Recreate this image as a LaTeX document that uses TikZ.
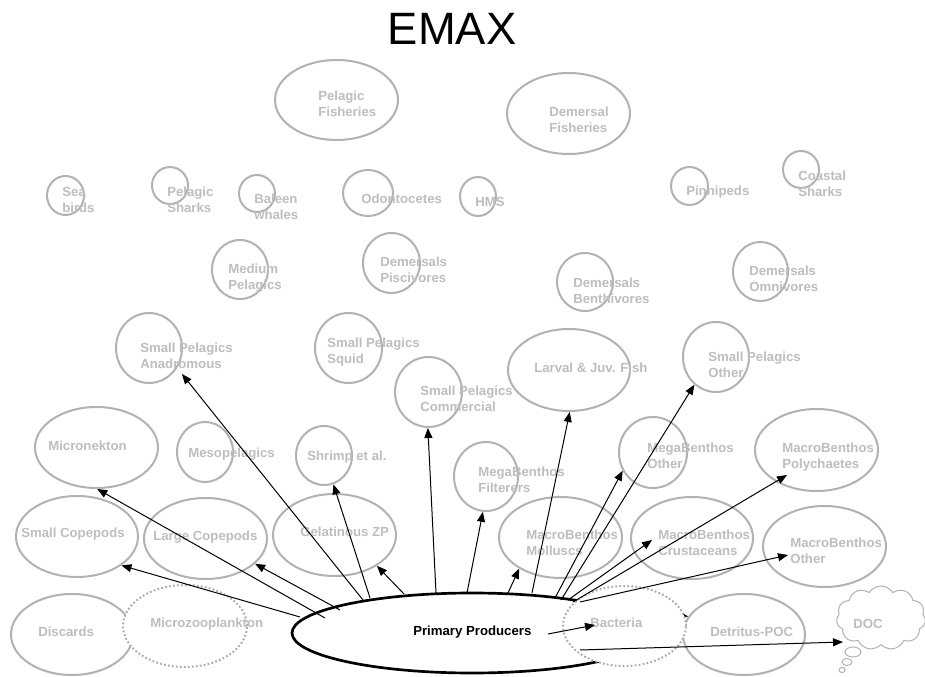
\documentclass[tikz,border=0pt]{standalone}
\usepackage{fontspec}
\setmainfont{Liberation Sans}
\usetikzlibrary{shapes.geometric,shapes.symbols,arrows.meta}
\definecolor{linegray}{RGB}{178,178,178}
\definecolor{txtgray}{RGB}{190,190,190}
\definecolor{dotgray}{RGB}{170,170,170}
\newcommand\mybub[6][bubble]{\node[#1, minimum width={2*#5*0.75pt}, minimum height={2*#6*0.75pt}] (#2) at (#3,#4) {};}
\begin{document}
\begin{tikzpicture}[x=0.75pt,y=-0.75pt,
  bubble/.style={ellipse, draw=linegray, line width=1.5pt, fill=white, inner sep=0pt},
  dotbubble/.style={ellipse, draw=dotgray, line width=1.5pt, dash pattern=on 1.3pt off 1.7pt, fill=white, inner sep=0pt},
  ppbubble/.style={ellipse, draw=black, line width=2pt, fill=white, inner sep=0pt},
  thought/.style={ellipse, draw=linegray, line width=0.75pt, fill=white, inner sep=0pt},
  lab/.style={font=\bfseries\fontsize{9.9}{12}\selectfont, text=txtgray, inner sep=0pt, anchor=base west, align=left},
  arr/.style={-{Triangle[length=7.5pt,width=6pt]}, line width=0.75pt, black}]
\useasboundingbox (0,0) rectangle (925,677);
\fill[white] (0,0) rectangle (925,677);
% title
\node[font=\fontsize{34}{40}\selectfont, inner sep=0pt] (title) at (452,28.5) {EMAX};
% grey bubbles
\mybub{pfish}{336.5}{100}{61.5}{40}
\mybub{dfish}{568.5}{113.5}{61.5}{40.5}
\mybub{seabirds}{65.5}{195.5}{18.5}{19.5}
\mybub{psharks}{170}{185.5}{18}{18.5}
\mybub{baleen}{257}{193.5}{18}{18.5}
\mybub{odonto}{368}{193}{25}{23}
\mybub{hms}{478}{196.5}{18}{19.5}
\mybub{pinni}{689.5}{186}{18.5}{19}
\mybub{csharks}{801}{169.5}{18}{18.5}
\mybub{medpel}{240}{269.5}{28}{29.5}
\mybub{dpisc}{391.5}{263}{28.5}{30}
\mybub{dbenth}{585}{282}{28}{29}
\mybub{domni}{760.5}{271.5}{27.5}{29.5}
\mybub{spanad}{149}{348}{33}{35}
\mybub{spsquid}{348.5}{348}{33.5}{35}
\mybub{spcomm}{428.5}{392}{33.5}{35}
\mybub{larval}{569}{370}{61}{41}
\mybub{spother}{716}{357}{33}{35}
\mybub{micronek}{96.5}{447.5}{61.5}{40.5}
\mybub{mesopel}{205}{452}{28}{30}
\mybub{shrimp}{324}{455.5}{28}{29.5}
\mybub{megafilt}{486}{476.5}{32}{34.5}
\mybub{megaother}{653}{452.5}{34}{35.5}
\mybub{polych}{816.5}{450}{61.5}{41}
\mybub{smallcop}{77}{536.5}{61}{40.5}
\mybub{largecop}{205.5}{538.5}{61.5}{40.5}
\mybub{gelzp}{334.5}{535}{61.5}{41}
\mybub{molluscs}{560.5}{537.5}{61.5}{40.5}
\mybub{crust}{692}{538}{61}{41}
\mybub{mbother}{824.5}{546.5}{61.5}{40.5}
\mybub{discards}{72}{634.5}{61}{40.5}
\mybub{detritus}{744}{634.5}{61}{40.5}
\mybub[dotbubble]{microzoo}{185}{626}{62}{41}
% producers and bacteria
\coordinate (sdet) at (566,604);
\draw[arr] (sdet) -- (detritus.162.6);
\mybub[ppbubble]{pp}{472}{633}{180}{40}
\mybub[dotbubble]{bacteria}{624.5}{626}{61.5}{40}
% DOC cloud
\node[cloud, cloud puffs=11, cloud puff arc=115, draw=linegray, line width=0.75pt, fill=white, minimum width=67pt, minimum height=48pt, inner sep=0pt] (doc) at (881,618) {};
\mybub[thought]{th1}{853}{652}{8}{5}
\mybub[thought]{th2}{847}{662}{5}{3.5}
\mybub[thought]{th3}{842}{670}{3}{2.5}
% labels (two-line labels are placed by the baseline of their last line)
\node[lab] (t-pfish) at (318,116.5) {Pelagic\\Fisheries};
\node[lab] (t-dfish) at (549,132.5) {Demersal\\Fisheries};
\node[lab] (t-seabirds) at (62,212.5) {Sea\\birds};
\node[lab] (t-psharks) at (167,212.5) {Pelagic\\Sharks};
\node[lab] (t-baleen) at (254,219.5) {Baleen\\whales};
\node[lab] (t-odonto) at (361,203.5) {Odontocetes};
\node[lab] (t-hms) at (475,206.5) {HMS};
\node[lab] (t-pinni) at (686,195.5) {Pinnipeds};
\node[lab] (t-csharks) at (798,196.5) {Coastal\\Sharks};
\node[lab] (t-medpel) at (228,289.5) {Medium\\Pelagics};
\node[lab] (t-dpisc) at (380,282.5) {Demersals\\Piscivores};
\node[lab] (t-dbenth) at (573,303.5) {Demersals\\Benthivores};
\node[lab] (t-domni) at (749,291.5) {Demersals\\Omnivores};
\node[lab] (t-spanad) at (140,368.5) {Small Pelagics\\Anadromous};
\node[lab] (t-spsquid) at (327,363.5) {Small Pelagics\\Squid};
\node[lab] (t-spcomm) at (420,411.5) {Small Pelagics\\Commercial};
\node[lab] (t-larval) at (534,372.5) {Larval \& Juv. Fish};
\node[lab] (t-spother) at (708,377.5) {Small Pelagics\\Other};
\node[lab] (t-micronek) at (48,450.5) {Micronekton};
\node[lab] (t-mesopel) at (188,457.5) {Mesopelagics};
\node[lab] (t-shrimp) at (307,460.5) {Shrimp et al.};
\node[lab] (t-megafilt) at (478,492.5) {MegaBenthos\\Filterers};
\node[lab] (t-megaother) at (647,468.5) {MegaBenthos\\Other};
\node[lab] (t-polych) at (782,468.5) {MacroBenthos\\Polychaetes};
\node[lab] (t-smallcop) at (21,537.5) {Small Copepods};
\node[lab] (t-largecop) at (153,540.5) {Large Copepods};
\node[lab] (t-gelzp) at (300,536.5) {Gelatinous ZP};
\node[lab] (t-molluscs) at (526,555.5) {MacroBenthos\\Molluscs};
\node[lab] (t-crust) at (658,555.5) {MacroBenthos\\Crustaceans};
\node[lab] (t-mbother) at (790,563.5) {MacroBenthos\\Other};
\node[lab] (t-discards) at (38,636.5) {Discards};
\node[lab] (t-microzoo) at (150,627.5) {Microzooplankton};
\node[lab, text=black] (t-pp) at (413,635.5) {Primary Producers};
\node[lab] (t-bacteria) at (590,627.5) {Bacteria};
\node[lab] (t-detritus) at (710,636.5) {Detritus-POC};
\node[lab] (t-doc) at (853,628.5) {DOC};
% arrow start and end points
\coordinate (s1) at (300,617);
\coordinate (s2) at (325,618);
\coordinate (s3) at (340,610);
\coordinate (s4) at (363,600);
\coordinate (s5) at (370,598);
\coordinate (s6) at (404,594);
\coordinate (s7) at (436,593);
\coordinate (s8) at (467,593);
\coordinate (s9) at (532,593);
\coordinate (s10) at (508,593);
\coordinate (s11) at (555,598);
\coordinate (s12) at (561,600);
\coordinate (s13) at (568,600);
\coordinate (s14) at (573,602);
\coordinate (s15) at (580,602);
\coordinate (s16) at (548,634);
\coordinate (s17) at (580,650);
\coordinate (e4) at (182,374);
\coordinate (e13) at (652,540);
\coordinate (e14) at (787,475);
\coordinate (e15) at (788,555);
\coordinate (e16) at (595,625);
\coordinate (e17) at (843,642);
% arrows
\draw[arr] (s1) -- (smallcop.-33.5);
\draw[arr] (s2) -- (micronek.-89);
\draw[arr] (s3) -- (largecop.-27);
\draw[arr] (s4) -- (e4);
\draw[arr] (s5) -- (shrimp.-72);
\draw[arr] (s6) -- (gelzp.-36);
\draw[arr] (s7) -- (spcomm.-91);
\draw[arr] (s8) -- (megafilt.-95);
\draw[arr] (s9) -- (larval.-89);
\draw[arr] (s10) -- (molluscs.-143.5);
\draw[arr] (s11) -- (megaother.-149);
\draw[arr] (s12) -- (spother.-128);
\draw[arr] (s13) -- (e13);
\draw[arr] (s14) -- (e14);
\draw[arr] (s15) -- (e15);
\draw[arr] (s16) -- (e16);
\draw[arr] (s17) -- (e17);
\end{tikzpicture}
\end{document}
